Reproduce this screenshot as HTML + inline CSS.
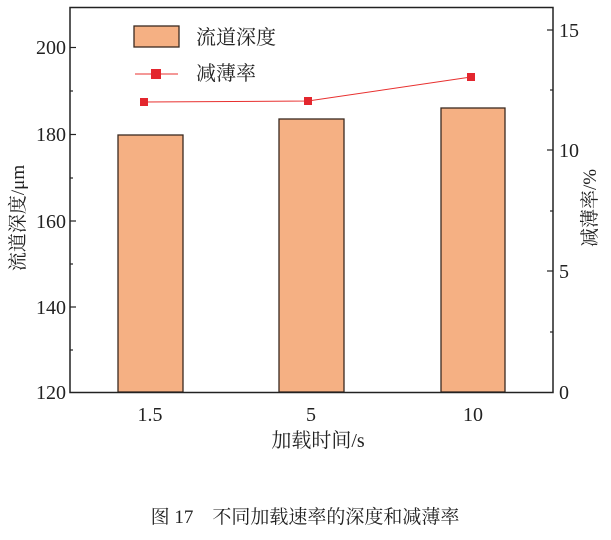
<!DOCTYPE html>
<html><head><meta charset="utf-8"><style>
body{margin:0;background:#fff;}
svg text{font-family:"Liberation Serif","Noto Serif CJK SC",serif;fill:#222;}
</style></head><body>
<svg width="611" height="535" viewBox="0 0 611 535" xmlns="http://www.w3.org/2000/svg">
<g fill="#f5b083" stroke="#3a2a20" stroke-width="1.3">
<rect x="118" y="135" width="65" height="257"/>
<rect x="279" y="119" width="65" height="273"/>
<rect x="441" y="108" width="64" height="284"/>
</g>
<rect x="70" y="7.5" width="483" height="385" fill="none" stroke="#222" stroke-width="1.5"/>
<g stroke="#222" stroke-width="1.2">
<line x1="70" y1="47.5" x2="76" y2="47.5"/><line x1="70" y1="134.5" x2="76" y2="134.5"/>
<line x1="70" y1="221" x2="76" y2="221"/><line x1="70" y1="307" x2="76" y2="307"/>
<line x1="70" y1="91" x2="73" y2="91"/><line x1="70" y1="178" x2="73" y2="178"/>
<line x1="70" y1="264" x2="73" y2="264"/><line x1="70" y1="350" x2="73" y2="350"/>
<line x1="553" y1="30" x2="547" y2="30"/><line x1="553" y1="150" x2="547" y2="150"/>
<line x1="553" y1="271" x2="547" y2="271"/>
<line x1="553" y1="90" x2="550" y2="90"/><line x1="553" y1="211" x2="550" y2="211"/>
<line x1="553" y1="332" x2="550" y2="332"/>
</g>
<g font-size="20" text-anchor="end">
<text x="66" y="54">200</text><text x="66" y="141">180</text><text x="66" y="228">160</text>
<text x="66" y="314">140</text><text x="66" y="399">120</text>
</g>
<g font-size="20" text-anchor="start">
<text x="559" y="37">15</text><text x="559" y="157">10</text><text x="559" y="278">5</text><text x="559" y="399">0</text>
</g>
<g font-size="20" text-anchor="middle">
<text x="150" y="421">1.5</text><text x="311" y="421">5</text><text x="473" y="421">10</text>
<text x="318" y="447">加载时间/s</text>
</g>
<text font-size="19" text-anchor="middle" transform="translate(24,218) rotate(-90)">流道深度/μm</text>
<text font-size="19" text-anchor="middle" transform="translate(596,208) rotate(-90)">减薄率/%</text>
<polyline points="144,102 308,101 471,77" fill="none" stroke="#e8302f" stroke-width="1"/>
<g fill="#e3262e">
<rect x="140" y="98" width="8" height="8"/><rect x="304" y="97" width="8" height="8"/><rect x="467" y="73" width="8" height="8"/>
</g>
<rect x="134" y="26" width="45" height="21" fill="#f5b083" stroke="#3a2a20" stroke-width="1.3"/>
<text x="196" y="44" font-size="20">流道深度</text>
<line x1="135" y1="74" x2="178" y2="74" stroke="#e8302f" stroke-width="1"/>
<rect x="151" y="69" width="10" height="10" fill="#e3262e"/>
<text x="196" y="80" font-size="20">减薄率</text>
<text x="305" y="523" font-size="19" text-anchor="middle">图 17　不同加载速率的深度和减薄率</text>
</svg>
</body></html>
